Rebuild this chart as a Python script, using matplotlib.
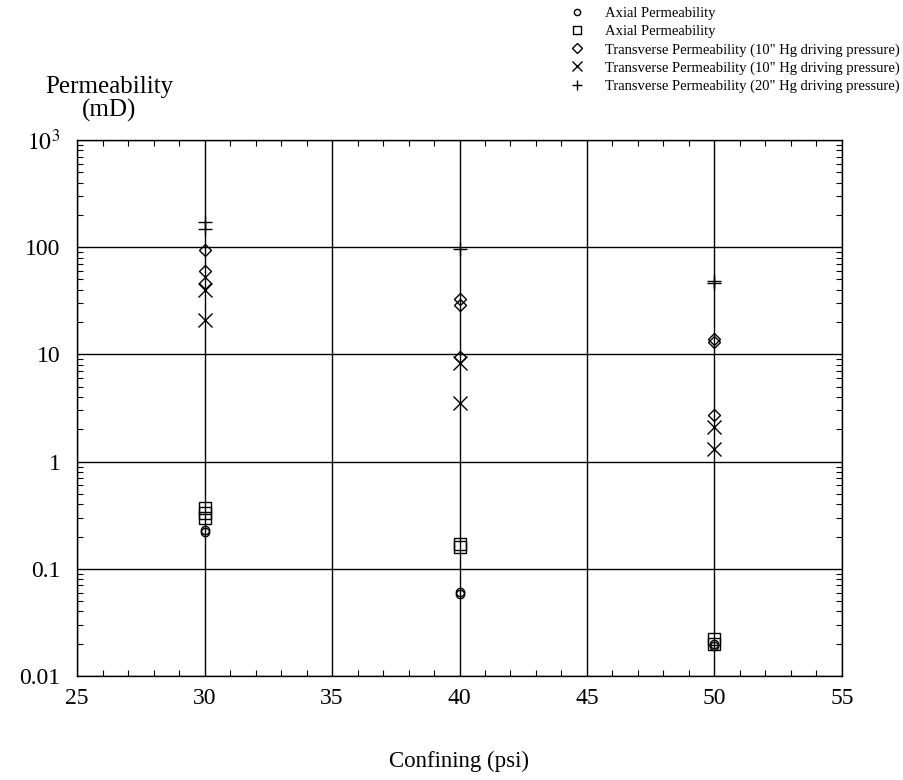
import numpy as np
import matplotlib.pyplot as plt
from matplotlib.ticker import MultipleLocator, LogLocator, FixedLocator, NullFormatter

plt.rcParams['font.family'] = ['Liberation Serif', 'DejaVu Serif']
plt.rcParams['mathtext.fontset'] = 'stix'

# Datos
x_axial_c = [30, 30, 40, 40, 50, 50]
y_axial_c = [0.23, 0.22, 0.061, 0.058, 0.020, 0.019]

x_axial_s = [30, 30, 30, 40, 40, 50, 50]
y_axial_s = [0.37, 0.33, 0.30, 0.17, 0.16, 0.022, 0.020]

x_trans_d = [30, 30, 30, 40, 40, 40, 50, 50, 50]
y_trans_d = [95, 60, 46, 33, 29, 9.5, 14, 13, 2.7]

x_trans_x = [30, 30, 40, 40, 50, 50]
y_trans_x = [40, 21, 8.3, 3.5, 2.1, 1.3]

x_trans_p = [30, 30, 40, 50, 50]
y_trans_p = [170, 148, 96, 48, 46]

labels = ['Axial Permeability',
          'Axial Permeability',
          'Transverse Permeability (10" Hg driving pressure)',
          'Transverse Permeability (10" Hg driving pressure)',
          'Transverse Permeability (20" Hg driving pressure)']

fig = plt.figure(figsize=(9.04, 7.8), dpi=100)
ax = fig.add_axes([77/904, 1 - 676/780, (842-77)/904, (676-140)/780])

ms = 7
ax.plot(x_axial_c, y_axial_c, 'o', mfc='none', mec='k', ms=ms-1, mew=1.0, label=labels[0])
ax.plot(x_axial_s, y_axial_s, 's', mfc='none', mec='k', ms=ms+1, mew=1.0, label=labels[1])
ax.plot(x_trans_d, y_trans_d, 'D', mfc='none', mec='k', ms=ms-0.5, mew=1.0, label=labels[2])
ax.plot(x_trans_x, y_trans_x, 'x', color='k', ms=ms+3, mew=1.0, label=labels[3])
ax.plot(x_trans_p, y_trans_p, '+', color='k', ms=ms+3, mew=1.0, label=labels[4])

ax.set_yscale('log')
ax.set_xlim(25, 55)
ax.set_ylim(0.01, 1000)

ax.xaxis.set_major_locator(MultipleLocator(5))
ax.xaxis.set_minor_locator(MultipleLocator(1))
ax.yaxis.set_major_locator(FixedLocator([0.01, 0.1, 1, 10, 100, 1000]))
ax.yaxis.set_minor_locator(LogLocator(base=10, subs=np.arange(2, 10), numticks=20))
ax.yaxis.set_minor_formatter(NullFormatter())
ax.set_yticklabels(['0.01', '0.1', '1', '10', '100', r'$10^3$'])

ax.tick_params(which='both', direction='in', top=True, right=True, labelsize=17)
ax.tick_params(axis='x', which='major', length=0, pad=9)
ax.tick_params(axis='y', which='major', length=0, pad=12)
ax.tick_params(which='minor', length=4, width=0.8)

ax.grid(True, which='major', color='k', lw=1.0)
for s in ax.spines.values():
    s.set_linewidth(1.0)

ax.set_xlabel('Confining (psi)', fontsize=16.5, labelpad=30)
fig.text(109/904, 1 - 99/780, 'Permeability\n(mD)', ha='center', va='center',
         fontsize=18, linespacing=1.05)

fig.legend(loc='upper left', bbox_to_anchor=(555/904, 1.0), frameon=False,
           fontsize=10.5, handletextpad=0.9, labelspacing=0.32, borderaxespad=0.1,
           markerscale=0.75)

fig.savefig('out.png', dpi=100)
